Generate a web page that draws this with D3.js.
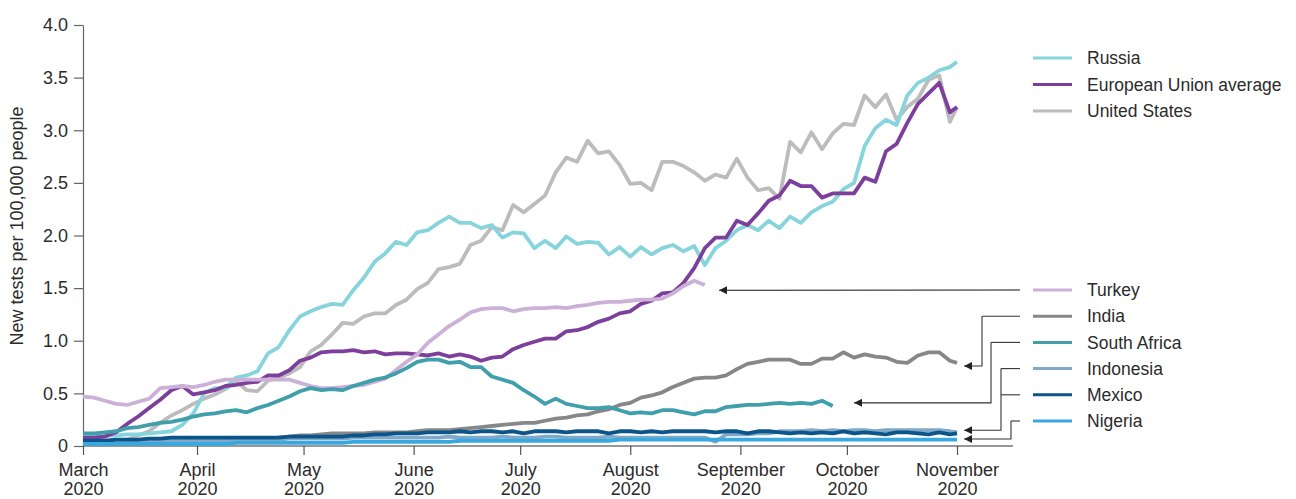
<!DOCTYPE html>
<html>
<head>
<meta charset="utf-8">
<script src="https://cdn.jsdelivr.net/npm/d3@7/dist/d3.min.js"></script>
<style>
  html, body { margin: 0; padding: 0; background: #fff; }
  svg { display: block; }
  text { font-family: "Liberation Sans", Arial, sans-serif; fill: #2b2b2b; }
</style>
</head>
<body>
<svg id="chart" width="1296" height="499"></svg>
<script>
// Sampling grid: days after 1 March 2020 (every third day, ending 1 November)
const dayOffsets = [...d3.range(0, 244, 3), 245];

// New tests per 100,000 people, one value per grid day
const russia = [
  0.10,0.10,0.10,0.10,0.11,0.11,0.12,0.13,0.14,0.20,
  0.31,0.50,0.55,0.55,0.65,0.67,0.71,0.88,0.94,1.10,
  1.23,1.28,1.32,1.35,1.34,1.48,1.60,1.75,1.83,1.94,
  1.91,2.03,2.05,2.12,2.18,2.12,2.12,2.07,2.10,1.98,
  2.03,2.02,1.88,1.95,1.88,1.99,1.92,1.94,1.93,1.82,
  1.89,1.80,1.89,1.82,1.88,1.91,1.85,1.90,1.72,1.88,
  1.95,2.05,2.10,2.05,2.14,2.07,2.18,2.12,2.22,2.28,
  2.32,2.44,2.50,2.85,3.02,3.10,3.05,3.33,3.45,3.50,
  3.57,3.60,3.65
];
const euAverage = [
  0.08,0.08,0.09,0.13,0.21,0.28,0.36,0.44,0.53,0.57,
  0.49,0.51,0.53,0.57,0.58,0.60,0.61,0.67,0.67,0.72,
  0.81,0.84,0.89,0.90,0.90,0.91,0.89,0.90,0.87,0.88,
  0.88,0.87,0.86,0.88,0.85,0.87,0.85,0.81,0.84,0.85,
  0.92,0.96,0.99,1.02,1.02,1.09,1.10,1.13,1.18,1.21,
  1.26,1.28,1.35,1.38,1.45,1.46,1.55,1.69,1.88,1.98,
  1.98,2.14,2.10,2.21,2.33,2.38,2.52,2.47,2.47,2.36,
  2.40,2.40,2.40,2.55,2.51,2.80,2.87,3.07,3.25,3.35,
  3.45,3.17,3.22
];
const unitedStates = [
  0.05,0.05,0.05,0.05,0.06,0.10,0.14,0.22,0.29,0.34,
  0.40,0.45,0.49,0.54,0.62,0.53,0.52,0.62,0.65,0.69,
  0.75,0.90,0.96,1.06,1.17,1.16,1.23,1.26,1.26,1.34,
  1.39,1.49,1.55,1.68,1.70,1.73,1.91,1.95,2.08,2.05,
  2.29,2.22,2.30,2.38,2.60,2.74,2.70,2.90,2.78,2.80,
  2.67,2.49,2.50,2.43,2.70,2.70,2.66,2.60,2.52,2.58,
  2.55,2.73,2.55,2.43,2.45,2.35,2.89,2.79,2.98,2.82,
  2.97,3.06,3.05,3.33,3.22,3.34,3.10,3.22,3.30,3.48,
  3.52,3.08,3.22
];
const turkey = [
  0.47,0.46,0.43,0.40,0.39,0.42,0.45,0.55,0.56,0.57,
  0.56,0.58,0.61,0.63,0.63,0.63,0.63,0.63,0.63,0.63,
  0.60,0.57,0.55,0.55,0.56,0.57,0.58,0.61,0.64,0.72,
  0.80,0.87,0.98,1.06,1.14,1.20,1.27,1.30,1.31,1.31,
  1.28,1.30,1.31,1.31,1.32,1.31,1.33,1.34,1.36,1.37,
  1.37,1.38,1.39,1.39,1.40,1.45,1.52,1.57,1.53
];
const india = [
  0.02,0.02,0.02,0.02,0.03,0.03,0.03,0.03,0.03,0.03,
  0.03,0.04,0.04,0.04,0.04,0.05,0.06,0.07,0.08,0.09,
  0.10,0.10,0.11,0.12,0.12,0.12,0.12,0.13,0.13,0.13,
  0.13,0.14,0.15,0.15,0.15,0.16,0.17,0.18,0.19,0.20,
  0.21,0.22,0.22,0.24,0.26,0.27,0.29,0.30,0.33,0.35,
  0.39,0.41,0.46,0.48,0.51,0.56,0.60,0.64,0.65,0.65,
  0.67,0.73,0.78,0.80,0.82,0.82,0.82,0.78,0.78,0.83,
  0.83,0.89,0.84,0.87,0.85,0.84,0.80,0.79,0.86,0.89,
  0.89,0.81,0.79
];
const southAfrica = [
  0.12,0.12,0.13,0.14,0.17,0.18,0.20,0.22,0.23,0.25,
  0.28,0.30,0.31,0.33,0.34,0.32,0.36,0.39,0.43,0.47,
  0.52,0.55,0.53,0.54,0.53,0.57,0.60,0.63,0.65,0.69,
  0.74,0.80,0.82,0.82,0.79,0.80,0.75,0.75,0.66,0.63,
  0.60,0.53,0.47,0.40,0.45,0.40,0.38,0.36,0.36,0.37,
  0.34,0.31,0.32,0.31,0.34,0.34,0.32,0.30,0.33,0.33,
  0.37,0.38,0.39,0.39,0.40,0.41,0.40,0.41,0.40,0.43,
  0.38
];
const indonesia = [
  0.03,0.03,0.03,0.03,0.04,0.04,0.04,0.05,0.05,0.05,
  0.05,0.05,0.05,0.05,0.05,0.05,0.06,0.05,0.06,0.07,
  0.07,0.07,0.07,0.07,0.07,0.08,0.08,0.08,0.08,0.08,
  0.08,0.08,0.08,0.08,0.09,0.08,0.08,0.08,0.08,0.09,
  0.08,0.08,0.08,0.09,0.09,0.08,0.08,0.08,0.08,0.09,
  0.08,0.08,0.08,0.08,0.08,0.08,0.08,0.08,0.08,0.04,
  0.11,0.11,0.11,0.12,0.12,0.14,0.14,0.14,0.15,0.14,
  0.15,0.14,0.15,0.15,0.14,0.15,0.15,0.15,0.15,0.15,
  0.15,0.14,0.13
];
const mexico = [
  0.05,0.05,0.05,0.06,0.06,0.06,0.07,0.07,0.08,0.08,
  0.08,0.08,0.08,0.08,0.08,0.08,0.08,0.08,0.08,0.09,
  0.09,0.09,0.09,0.09,0.09,0.10,0.10,0.11,0.11,0.12,
  0.12,0.12,0.13,0.13,0.13,0.14,0.13,0.14,0.14,0.13,
  0.14,0.12,0.14,0.14,0.14,0.13,0.14,0.14,0.14,0.12,
  0.14,0.14,0.13,0.14,0.13,0.14,0.14,0.14,0.14,0.13,
  0.14,0.14,0.12,0.14,0.14,0.13,0.12,0.13,0.12,0.13,
  0.12,0.14,0.12,0.13,0.12,0.11,0.13,0.13,0.12,0.11,
  0.13,0.11,0.12
];
const nigeria = [
  0.02,0.02,0.02,0.02,0.02,0.02,0.02,0.02,0.02,0.02,
  0.02,0.02,0.02,0.02,0.03,0.03,0.03,0.03,0.03,0.03,
  0.03,0.03,0.03,0.03,0.03,0.04,0.04,0.04,0.04,0.04,
  0.04,0.04,0.04,0.04,0.04,0.05,0.05,0.05,0.05,0.05,
  0.05,0.05,0.05,0.05,0.05,0.05,0.05,0.05,0.05,0.05,
  0.06,0.06,0.06,0.06,0.06,0.06,0.06,0.06,0.06,0.06,
  0.06,0.06,0.06,0.06,0.06,0.06,0.06,0.06,0.06,0.06,
  0.06,0.06,0.06,0.06,0.06,0.06,0.06,0.06,0.06,0.06,
  0.06,0.06,0.06
];

const yTicks = [0, 0.5, 1.0, 1.5, 2.0, 2.5, 3.0, 3.5, 4.0];
const monthNames = ["March", "April", "May", "June", "July", "August", "September", "October", "November"];
const yearLabel = "2020";
const yTitle = "New tests per 100,000 people";

// Series in drawing order (later ones sit on top)
const seriesList = [
  { name: "United States", values: unitedStates, color: "#bcbcbc" },
  { name: "Russia", values: russia, color: "#87d4dd" },
  { name: "European Union average", values: euAverage, color: "#7c3f9b" },
  { name: "Turkey", values: turkey, color: "#cbb1d8" },
  { name: "India", values: india, color: "#878787" },
  { name: "South Africa", values: southAfrica, color: "#409fab" },
  { name: "Indonesia", values: indonesia, color: "#80a8c9" },
  { name: "Mexico", values: mexico, color: "#0b558a" },
  { name: "Nigeria", values: nigeria, color: "#39a8de" }
];

// Legend groups
const legendTop = ["Russia", "European Union average", "United States"];
const legendBottom = ["Turkey", "India", "South Africa", "Indonesia", "Mexico", "Nigeria"];

// Callout targets in data space: day after 1 March, value
const callouts = [
  { labels: ["Turkey"], day: 178, value: 1.48 },
  { labels: ["India"], day: 247, value: 0.76 },
  { labels: ["South Africa"], day: 216, value: 0.41 },
  { labels: ["Indonesia", "Mexico"], day: 247, value: 0.15 },
  { labels: ["Nigeria"], day: 247, value: 0.067 }
];

const start = new Date(2020, 2, 1);
const dayToDate = d => d3.timeDay.offset(start, d);
const dates = dayOffsets.map(dayToDate);
const monthTicks = d3.range(0, 9).map(m => new Date(2020, 2 + m, 1));

const svg = d3.select("#chart");
const plotLeft = 83, plotTop = 25, plotBottom = 446, axisRight = 1013;

const x = d3.scaleTime()
  .domain([new Date(2020, 2, 1), new Date(2020, 3, 1), new Date(2020, 10, 1)])
  .range([plotLeft, 197, 957]);
const y = d3.scaleLinear().domain([0, 4]).range([plotBottom, plotTop]);

// Y axis
const yAxis = svg.append("g")
  .attr("transform", `translate(${plotLeft},0)`)
  .call(d3.axisLeft(y).tickValues(yTicks).tickSize(9).tickSizeOuter(0).tickPadding(6)
    .tickFormat(d => d === 0 ? "0" : d3.format(".1f")(d)));
yAxis.select(".domain").attr("stroke", "#666").attr("stroke-width", 1.2);
yAxis.selectAll(".tick line").attr("stroke", "#666").attr("stroke-width", 1.2);
yAxis.selectAll(".tick text").attr("font-size", 18).attr("fill", "#2b2b2b")
  .attr("font-family", '"Liberation Sans", Arial, sans-serif');

// X axis
const xAxis = svg.append("g")
  .attr("transform", `translate(0,${plotBottom})`)
  .call(d3.axisBottom(x).tickValues(monthTicks).tickSize(9).tickSizeOuter(0).tickFormat(""));
xAxis.select(".domain").remove();
xAxis.selectAll(".tick line").attr("stroke", "#555").attr("stroke-width", 1.2);
xAxis.append("line")
  .attr("x1", plotLeft).attr("x2", axisRight).attr("y1", 0).attr("y2", 0)
  .attr("stroke", "#333").attr("stroke-width", 1.2);
xAxis.selectAll(".tick").each(function(d, i) {
  const t = d3.select(this).append("text")
    .attr("text-anchor", "middle").attr("font-size", 18)
    .attr("fill", "#2b2b2b")
    .attr("font-family", '"Liberation Sans", Arial, sans-serif');
  t.append("tspan").attr("x", 0).attr("y", 30).text(monthNames[i]);
  t.append("tspan").attr("x", 0).attr("y", 49).text(yearLabel);
});

// Y axis title
svg.append("text")
  .attr("transform", `translate(23,226) rotate(-90)`)
  .attr("text-anchor", "middle").attr("font-size", 18)
  .text(yTitle);

// Lines
const line = d3.line()
  .x((d, i) => x(dates[i]))
  .y(d => y(d))
  .curve(d3.curveLinear);

svg.append("g").selectAll("path")
  .data(seriesList)
  .join("path")
  .attr("d", s => line(s.values))
  .attr("fill", "none")
  .attr("stroke", s => s.color)
  .attr("stroke-width", 3.8)
  .attr("stroke-linejoin", "round")
  .attr("stroke-linecap", "butt");

// Legend
const colorOf = name => seriesList.find(s => s.name === name).color;
const legendRowsTop = legendTop.map((n, i) => ({ name: n, y: 58 + i * 26.5 }));
const legendRowsBottom = legendBottom.map((n, i) => ({ name: n, y: 290 + i * 26.2 }));
const legendRows = legendRowsTop.concat(legendRowsBottom);
const legend = svg.append("g");
legend.selectAll("line")
  .data(legendRows)
  .join("line")
  .attr("x1", 1033).attr("x2", 1072)
  .attr("y1", d => d.y).attr("y2", d => d.y)
  .attr("stroke", d => colorOf(d.name)).attr("stroke-width", 3);
legend.selectAll("text")
  .data(legendRows)
  .join("text")
  .attr("x", 1087).attr("y", d => d.y).attr("dy", "0.35em")
  .attr("font-size", 17.5)
  .text(d => d.name);

// Callout connectors; arrowhead tip sits at the end of each path
svg.append("defs").append("marker")
  .attr("id", "arrowhead")
  .attr("viewBox", "0 0 10 10").attr("refX", 10).attr("refY", 5)
  .attr("markerWidth", 8).attr("markerHeight", 8)
  .attr("markerUnits", "userSpaceOnUse")
  .attr("orient", "auto")
  .append("path").attr("d", "M0,0 L10,5 L0,10 Z").attr("fill", "#222");

const elbowX = { "India": 982, "South Africa": 991, "Indonesia": 1001, "Nigeria": 1011 };
const connectorStart = 1020;
const connectors = svg.append("g").attr("fill", "none").attr("stroke", "#333").attr("stroke-width", 1.1);
callouts.forEach(c => {
  const tx = x(dayToDate(c.day));
  const ty = y(c.value);
  const rows = c.labels.map(n => legendRows.find(r => r.name === n));
  if (c.labels[0] === "Turkey") {
    connectors.append("path")
      .attr("d", `M${connectorStart},${rows[0].y} L${tx},${ty}`)
      .attr("marker-end", "url(#arrowhead)")
      .attr("stroke", "#111");
    return;
  }
  const ex = elbowX[c.labels[0]];
  rows.forEach(r => {
    connectors.append("path").attr("d", `M${connectorStart},${r.y} L${ex},${r.y}`);
  });
  const topY = d3.min(rows, r => r.y);
  connectors.append("path")
    .attr("d", `M${ex},${topY} L${ex},${ty} L${tx},${ty}`)
    .attr("marker-end", "url(#arrowhead)");
});
</script>
</body>
</html>
